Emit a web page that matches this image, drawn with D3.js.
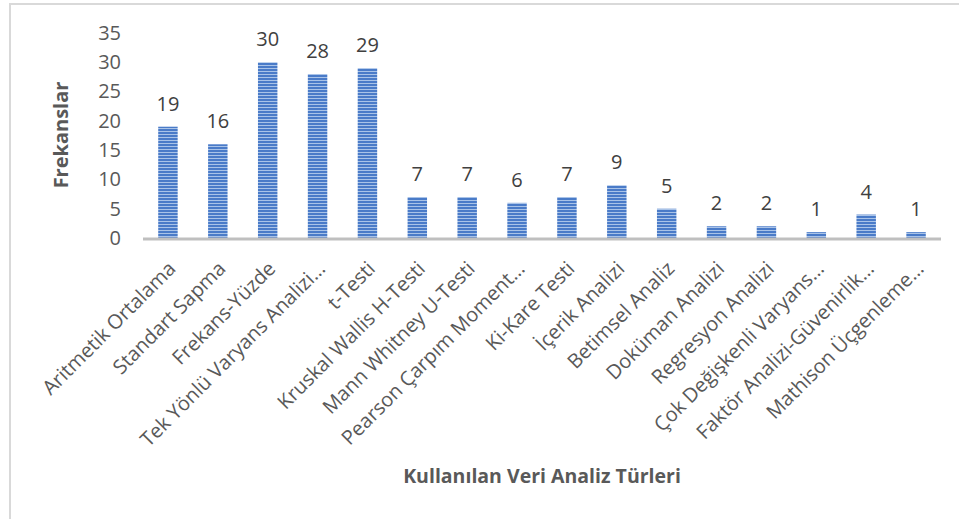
<!DOCTYPE html>
<html>
<head>
<meta charset="utf-8">
<script src="https://cdn.jsdelivr.net/npm/d3@7/dist/d3.min.js"></script>
<style>
  body { margin: 0; background: #fff; }
  text { font-family: "Open Sans", sans-serif; }
</style>
</head>
<body>
<div id="chart"></div>
<script>
// analysis types and their frequencies
var categories = ["Aritmetik Ortalama", "Standart Sapma", "Frekans-Yüzde", "Tek Yönlü Varyans Analizi…",
  "t-Testi", "Kruskal Wallis H-Testi", "Mann Whitney U-Testi", "Pearson Çarpım Moment…",
  "Ki-Kare Testi", "İçerik Analizi", "Betimsel Analiz", "Doküman Analizi",
  "Regresyon Analizi", "Çok Değişkenli Varyans…", "Faktör Analizi-Güvenirlik…", "Mathison Üçgenleme…"];
var values = [19, 16, 30, 28, 29, 7, 7, 6, 7, 9, 5, 2, 2, 1, 4, 1];
var yTicks = [0, 5, 10, 15, 20, 25, 30, 35];

var width = 959, height = 519;
var svg = d3.select("#chart").append("svg").attr("width", width).attr("height", height);

// striped fill like the office chart
var defs = svg.append("defs");
var pat = defs.append("pattern").attr("id", "stripes")
  .attr("patternUnits", "userSpaceOnUse").attr("width", 6).attr("height", 3);
pat.append("rect").attr("width", 6).attr("height", 3).attr("fill", "#4a7bc8");
pat.append("rect").attr("y", 2).attr("width", 6).attr("height", 1).attr("fill", "#a9c3e8");

// outer frame
svg.append("rect").attr("x", 10).attr("y", 4).attr("width", 960).attr("height", 530)
  .attr("fill", "none").attr("stroke", "#d9d9d9").attr("stroke-width", 2);

var x = d3.scaleBand().domain(categories).range([143, 941]).paddingInner(0.61).paddingOuter(0.305);
var y = d3.scaleLinear().domain([0, 35]).range([238, 33]);

// y tick labels (no axis line, no gridlines)
var yAxis = d3.axisLeft(y).tickValues(yTicks).tickSize(0).tickPadding(0);
var gy = svg.append("g").attr("transform", "translate(121,0)").call(yAxis);
gy.select(".domain").remove();
gy.selectAll("text").attr("font-size", 20).attr("fill", "#595959")
  .attr("font-family", "Open Sans, sans-serif");

// bars
svg.selectAll("rect.bar").data(values).enter().append("rect").attr("class", "bar")
  .attr("x", function (d, i) { return x(categories[i]); })
  .attr("y", function (d) { return y(d); })
  .attr("width", x.bandwidth())
  .attr("height", function (d) { return y(0) - y(d); })
  .attr("fill", "url(#stripes)");

// baseline
svg.append("line").attr("x1", 143).attr("x2", 941).attr("y1", 239).attr("y2", 239)
  .attr("stroke", "#bfbfbf").attr("stroke-width", 3);

// value labels
svg.selectAll("text.val").data(values).enter().append("text").attr("class", "val")
  .attr("x", function (d, i) { return x(categories[i]) + x.bandwidth() / 2; })
  .attr("y", function (d) { return y(d) - 16; })
  .attr("text-anchor", "middle").attr("font-size", 20).attr("fill", "#404040")
  .text(function (d) { return d; });

// category labels rotated 45 degrees
var xAxis = d3.axisBottom(x).tickSize(0).tickPadding(0);
var gx = svg.append("g").attr("transform", "translate(0,265)").call(xAxis);
gx.select(".domain").remove();
gx.selectAll("text")
  .attr("font-size", 20).attr("fill", "#595959").attr("font-family", "Open Sans, sans-serif")
  .attr("text-anchor", "end").attr("dy", "0.35em")
  .attr("transform", "translate(4,0) rotate(-45)");

// axis titles
svg.append("text").attr("x", 542).attr("y", 483).attr("text-anchor", "middle")
  .attr("font-size", 19.5).attr("font-weight", "bold").attr("fill", "#595959")
  .text("Kullanılan Veri Analiz Türleri");
svg.append("text").attr("transform", "translate(68,135) rotate(-90)").attr("text-anchor", "middle")
  .attr("font-size", 20).attr("font-weight", "bold").attr("fill", "#595959")
  .text("Frekanslar");
</script>
</body>
</html>
